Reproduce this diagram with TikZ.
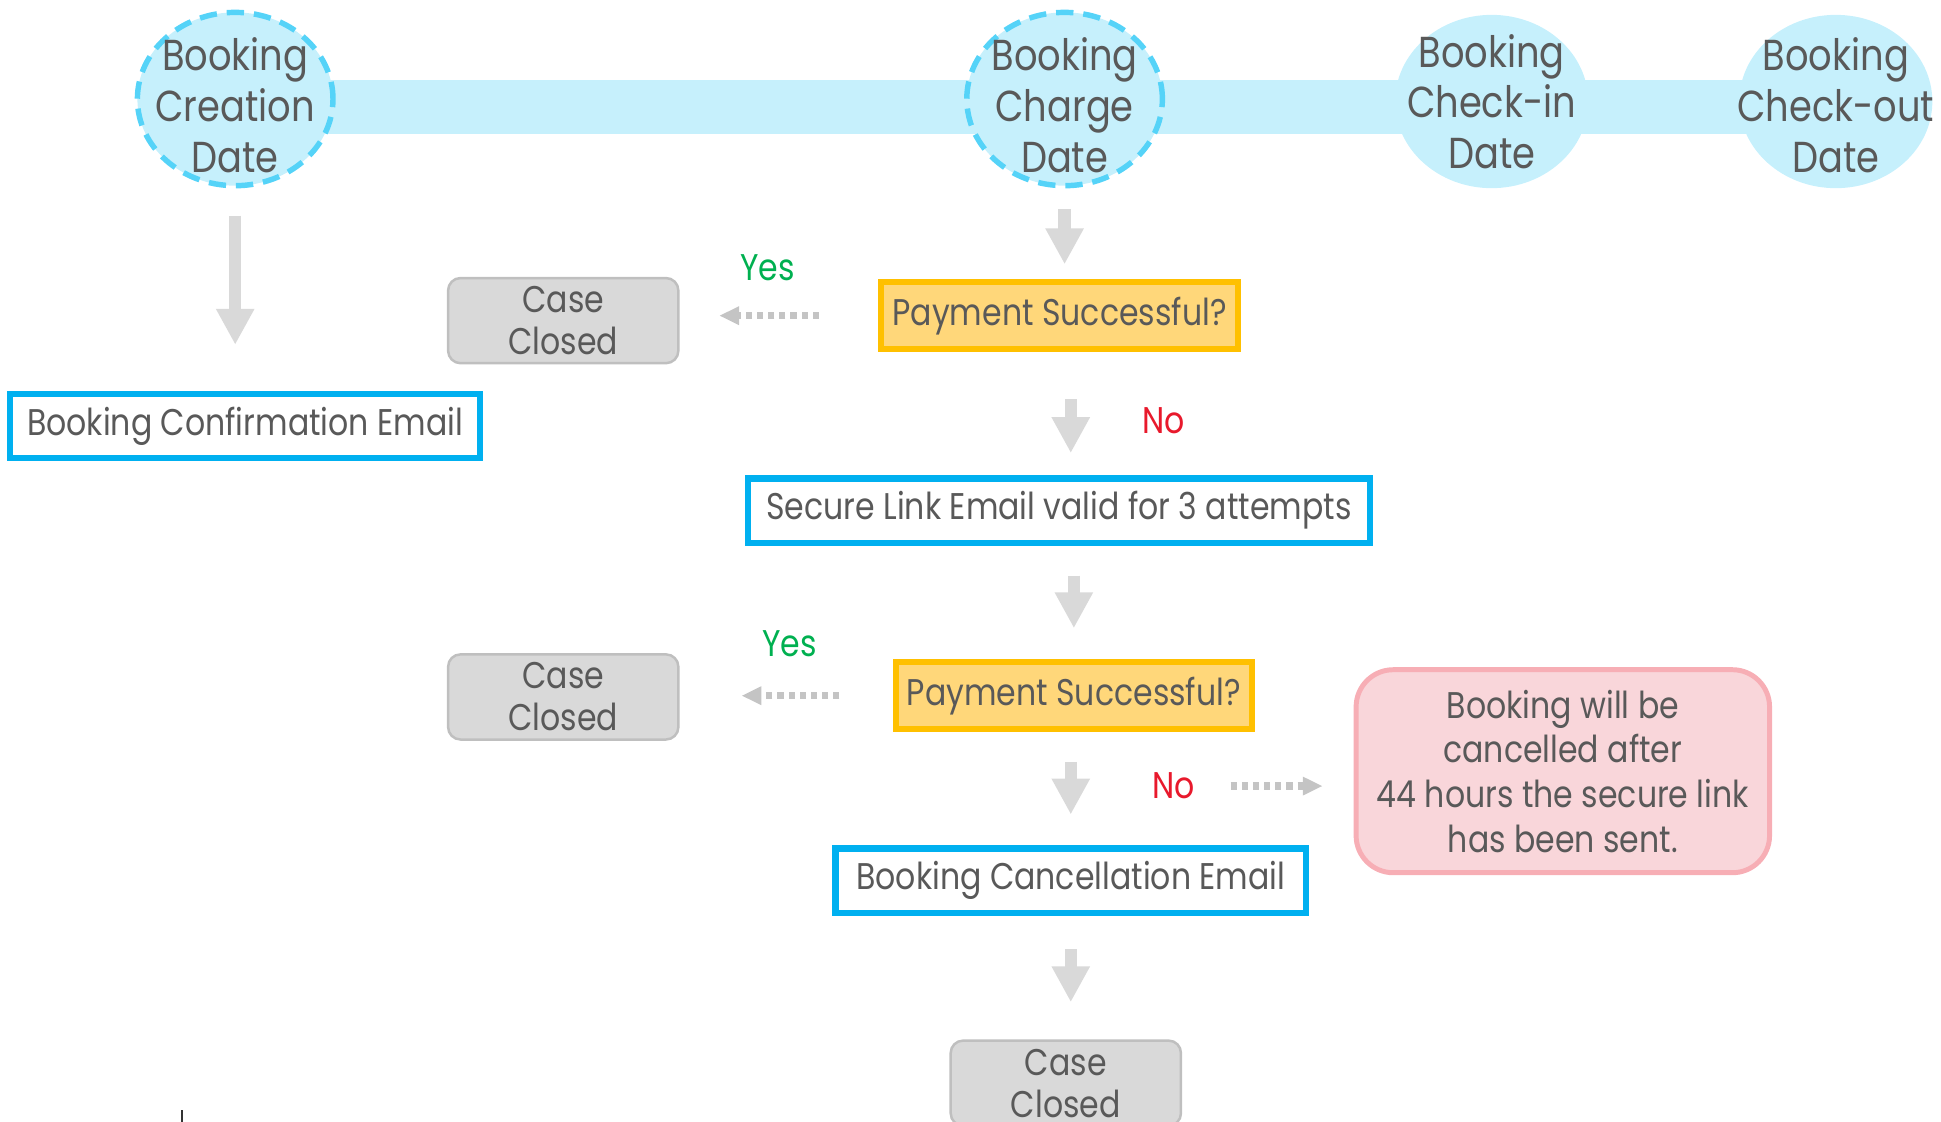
\documentclass[tikz,border=0pt]{standalone}
\usepackage{fontspec}
\setmainfont{Poppins}[FakeStretch=0.85]
\usetikzlibrary{arrows.meta,shapes.geometric}
\definecolor{txtgray}{HTML}{595959}
\definecolor{barblue}{HTML}{C6F0FC}
\definecolor{dashblue}{HTML}{55D3F8}
\definecolor{boxblue}{HTML}{00B0F0}
\definecolor{payedge}{HTML}{FFC000}
\definecolor{payfill}{HTML}{FFD77A}
\definecolor{closeedge}{HTML}{BFBFBF}
\definecolor{closefill}{HTML}{D9D9D9}
\definecolor{warnedge}{HTML}{F7AEB5}
\definecolor{warnfill}{HTML}{F9D6DA}
\definecolor{flowgray}{HTML}{D9D9D9}
\definecolor{hintgray}{HTML}{C4C4C4}
\definecolor{yesgreen}{HTML}{00B050}
\definecolor{nored}{HTML}{E8192C}

\begin{document}
\begin{tikzpicture}[x=0.5pt,y=-0.5pt,
    datelbl/.style={align=center,text=txtgray,font=\fontsize{17.5}{20.5}\selectfont},
    datept/.style={ellipse,fill=barblue,minimum width=78pt,minimum height=70pt,inner sep=0pt},
    dashpt/.style={datept,minimum width=79pt,minimum height=70pt,draw=dashblue,line width=2.2pt,
        dash pattern=on 7pt off 4pt},
    mailbox/.style={draw=boxblue,fill=white,line width=2.5pt,minimum height=26pt,
        text=txtgray,font=\fontsize{15}{17}\selectfont},
    paybox/.style={draw=payedge,fill=payfill,line width=2.5pt,minimum width=144pt,minimum height=27pt,
        text=txtgray,font=\fontsize{15}{17}\selectfont},
    closedbox/.style={draw=closeedge,fill=closefill,line width=1pt,rounded corners=5pt,
        minimum width=93pt,minimum height=33pt,align=center,text=txtgray,
        font=\fontsize{15}{17}\selectfont},
    warnbox/.style={draw=warnedge,fill=warnfill,line width=2pt,rounded corners=15pt,
        minimum width=167pt,minimum height=82pt,align=center,text=txtgray,
        font=\fontsize{15}{18}\selectfont},
    yes/.style={text=yesgreen,font=\fontsize{15}{17}\selectfont},
    no/.style={text=nored,font=\fontsize{15}{17}\selectfont},
    flow/.style={draw=flowgray,line width=5pt,-{Triangle[length=14.5pt,width=14.5pt]}},
    hint/.style={draw=hintgray,line width=3pt,dash pattern=on 2.5pt off 2pt,
        -{Triangle[length=8pt,width=7pt]}}]

    \path[use as bounding box,clip] (0,0) rectangle (1568,906);

    \fill[barblue] (190,65) rectangle (1483,108);
    \node[dashpt,label={[datelbl,yshift=-2.5pt]center:Booking\\Creation\\Date}] (created) at (190,80) {};
    \node[dashpt,label={[datelbl,yshift=-2.5pt]center:Booking\\Charge\\Date}] (charged) at (860,80) {};
    \node[datept,label={[datelbl]center:Booking\\Check-in\\Date}] (checkin) at (1205,82) {};
    \node[datept,label={[datelbl,yshift=-1.5pt]center:Booking\\Check-out\\Date}] (checkout) at (1483,82) {};

    \node[mailbox,minimum width=190pt] (confirm) at (198,344) {Booking Confirmation Email};
    \node[paybox] (pay1) at (856,255) {Payment Successful?};
    \node[closedbox] (closed1) at (455,259) {Case\\Closed};
    \node[mailbox,minimum width=251.5pt] (secure) at (855.5,412.5) {Secure Link Email valid for 3 attempts};
    \node[paybox] (pay2) at (867.5,562) {Payment Successful?};
    \node[closedbox] (closed2) at (455,563) {Case\\Closed};
    \node[warnbox] (warn) at (1262.5,623) {Booking will be\\cancelled after\\44 hours the secure link\\has been sent.};
    \node[mailbox,minimum width=190pt] (cancel) at (865,711.5) {Booking Cancellation Email};
    \node[closedbox] (closed3) at (861,875) {Case\\Closed};

    \node[yes] (yes1) at (620,216) {Yes};
    \node[no] (no1) at (940,340) {No};
    \node[yes] (yes2) at (638,520) {Yes};
    \node[no] (no2) at (948,635) {No};

    \draw[flow,shorten <=11pt,shorten >=18.5pt] (created.south) -- (created.south |- confirm.north);
    \draw[flow,shorten <=8.5pt,shorten >=6pt] (charged.south) -- (charged.south |- pay1.north);
    \draw[flow,shorten <=19pt,shorten >=9pt] ([xshift=4.5pt]pay1.south) -- ([xshift=4.5pt]pay1.south |- secure.north);
    \draw[flow,shorten <=12pt,shorten >=12.5pt] (secure.south -| pay2.north) -- (pay2.north);
    \draw[flow,shorten <=12pt,shorten >=12.5pt] (pay2.south -| cancel.north) -- (cancel.north);
    \draw[flow,shorten <=13.5pt,shorten >=15pt] (cancel.south) -- (cancel.south |- closed3.north);

    \draw[hint,shorten <=24pt,shorten >=16pt] (pay1.west) -- (pay1.west -| closed1.east);
    \draw[hint,shorten <=21.5pt,shorten >=25pt] (pay2.west) -- (pay2.west -| closed2.east);
    \draw[hint,shorten <=11pt,shorten >=12.5pt] (no2.east) -- (no2.east -| warn.west);

    \draw[line width=0.8pt,black!80] (147,897) -- (147,906);
\end{tikzpicture}
\end{document}
